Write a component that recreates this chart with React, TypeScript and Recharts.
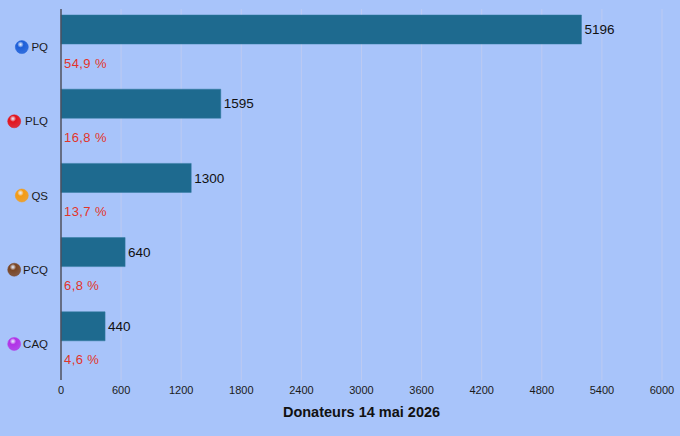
import { Bar, BarChart, CartesianGrid, LabelList, XAxis, YAxis } from 'recharts';

const PARTIES = ['PQ', 'PLQ', 'QS', 'PCQ', 'CAQ'];
const DONORS = [5196, 1595, 1300, 640, 440];
const SHARES = [54.9, 16.8, 13.7, 6.8, 4.6];
const PARTY_COLORS = ['#1d5fd8', '#e3141c', '#f59b12', '#7a4522', '#b232e6'];
const X_TICKS = [0, 600, 1200, 1800, 2400, 3000, 3600, 4200, 4800, 5400, 6000];

const FONT = '"Liberation Sans", Arial, sans-serif';

const rows = PARTIES.map((party, i) => ({ party, donors: DONORS[i], share: SHARES[i] }));

function PartyTick({ x, y, payload, index }: any) {
  const label = payload.value as string;
  const color = PARTY_COLORS[index % PARTY_COLORS.length];
  const cx = x - label.length * 7.6 - 11;
  return (
    <g>
      <defs>
        <radialGradient id={`dot-${index}`} cx="40%" cy="30%" r="70%">
          <stop offset="0%" stopColor="#ffffff" stopOpacity={0.7} />
          <stop offset="35%" stopColor={color} />
          <stop offset="100%" stopColor={color} stopOpacity={0.85} />
        </radialGradient>
      </defs>
      <circle cx={cx} cy={y + 1} r={6.5} fill={`url(#dot-${index})`} stroke={color} strokeWidth={0.5} />
      <text x={x} y={y} dy={5} textAnchor="end" fontSize={11.5} fill="#1a1a1a" fontFamily={FONT}>
        {label}
      </text>
    </g>
  );
}

function ShareLabel({ y, height, value }: any) {
  return (
    <text
      x={61 + 3}
      y={y + height / 2}
      dy={5}
      fontSize={13}
      fill="#e2342a"
      fontFamily={FONT}
      letterSpacing={0.4}
    >
      {`${String(value).replace('.', ',')} %`}
    </text>
  );
}

export default function App() {
  return (
    <div
      style={{
        position: 'absolute',
        left: 0,
        top: 0,
        width: 680,
        height: 436,
        background: '#a8c4fa',
        fontFamily: FONT,
      }}
    >
      <BarChart
        width={680}
        height={436}
        data={rows}
        layout="vertical"
        margin={{ top: 9, right: 18, bottom: 0, left: 0 }}
        barSize={29}
        barGap={4}
      >
        <CartesianGrid horizontal={false} stroke="#bccaf2" strokeWidth={1} />
        <XAxis
          type="number"
          domain={[0, 6000]}
          ticks={X_TICKS}
          interval={0}
          height={56}
          axisLine={false}
          tickLine={false}
          tickSize={0}
          tickMargin={6}
          tick={{ fontSize: 11, fill: '#1a1a1a', fontFamily: FONT }}
          label={{
            value: 'Donateurs 14 mai 2026',
            position: 'insideBottom',
            offset: 19,
            style: { fontSize: 14.5, fontWeight: 700, fill: '#111', fontFamily: FONT },
          }}
        />
        <YAxis
          type="category"
          dataKey="party"
          width={61}
          axisLine={{ stroke: '#4b4f5e', strokeWidth: 1.5 }}
          tickLine={false}
          tickSize={0}
          tickMargin={13}
          tick={<PartyTick />}
        />
        <Bar dataKey="donors" fill="#1e6a8f" stroke="#2f789c" strokeWidth={0.5} isAnimationActive={false}>
          <LabelList
            dataKey="donors"
            position="right"
            offset={3}
            style={{ fontSize: 13.5, fill: '#111', fontFamily: FONT }}
          />
        </Bar>
        <Bar dataKey="share" fill="transparent" isAnimationActive={false}>
          <LabelList dataKey="share" content={<ShareLabel />} />
        </Bar>
      </BarChart>
    </div>
  );
}
